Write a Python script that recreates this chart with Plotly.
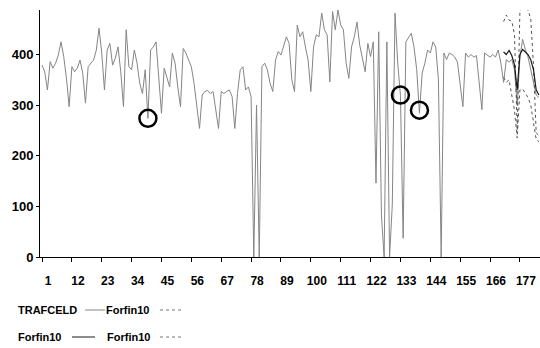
import plotly.graph_objects as go

# ---------------- data ----------------
TRAFCELD = [
    379, 366, 330, 386, 373, 383, 399, 425, 396, 353,
    297, 376, 366, 373, 389, 363, 304, 376, 383, 389,
    409, 452, 403, 330, 409, 422, 379, 393, 415, 366,
    297, 449, 376, 370, 409, 383, 343, 323, 370, 274,
    409, 415, 425, 350, 284, 373,
    356, 336, 403, 383, 336, 297, 412, 403, 389, 376,
    343, 297, 254, 320, 327, 329, 323, 327, 291, 254,
    327, 323, 327, 330, 317, 254, 323, 370, 376, 330,
    336, 317,
    0, 300, 0,
    376, 383, 370, 343, 327, 389, 406, 399, 419, 435, 422,
    350, 327, 458, 435, 445, 415, 389, 327, 415, 439,
    435, 482, 449, 439, 346, 485, 449, 488, 458, 449,
    383, 353, 415, 435, 464, 419, 389, 366, 422, 396, 425,
    146, 445, 83, 0, 425, 0, 103, 482, 383, 320,
    37, 425, 435, 442, 415, 370, 284, 363, 383, 409,
    403, 425, 415, 350, 0, 403,
    390, 403, 400, 395, 385, 343, 297, 403, 395, 400,
    395, 398, 336, 291, 403, 398, 395, 400, 395, 409, 383,
    345, 390, 385, 390, 370, 300, 395, 430, 410, 395,
    370, 345, 320, 315,
]

FORECAST_START = 171
FORFIN10_FIT = [405, 400, 408, 398, 380, 330, 400, 410, 405, 400, 390, 370, 330, 320]
FORFIN10_UPPER = [465, 478, 468, 466, 440, 250, 485, 492, 490, 488, 470, 380, 245, 240]
FORFIN10_LOWER = [355, 345, 350, 320, 290, 235, 330, 332, 322, 315, 300, 270, 232, 228]

OUTLIER_X = [40, 133, 140]
OUTLIER_Y = [274, 320, 290]

X_TICKS = [1, 12, 23, 34, 45, 56, 67, 78, 89, 100, 111, 122, 133, 144, 155, 166, 177]
Y_TICKS = [0, 100, 200, 300, 400]

# ---------------- figure ----------------
x_obs = list(range(1, len(TRAFCELD) + 1))
x_fc = list(range(FORECAST_START, FORECAST_START + len(FORFIN10_FIT)))

fig = go.Figure()
fig.add_trace(go.Scatter(x=x_obs, y=TRAFCELD, mode="lines", name="TRAFCELD",
                         line=dict(color="#858585", width=1)))
fig.add_trace(go.Scatter(x=x_fc, y=FORFIN10_UPPER, mode="lines", name="Forfin10",
                         line=dict(color="#555555", width=1, dash="3px,3px")))
fig.add_trace(go.Scatter(x=x_fc, y=FORFIN10_LOWER, mode="lines", name="Forfin10",
                         line=dict(color="#555555", width=1, dash="3px,3px")))
fig.add_trace(go.Scatter(x=x_fc, y=FORFIN10_FIT, mode="lines", name="Forfin10",
                         line=dict(color="#1a1a1a", width=1.2)))
fig.add_trace(go.Scatter(x=OUTLIER_X, y=OUTLIER_Y, mode="markers", name="outliers",
                         marker=dict(symbol="circle-open", size=17,
                                     line=dict(color="black", width=2.5), color="black")))

W, H = 540, 348
ML, MR, MT, MB = 40, 0, 10, 91
PW, PH = W - ML - MR, H - MT - MB


def px(xp):
    return (xp - ML) / PW


def py(yp):
    return (H - MB - yp) / PH


xtickfont = dict(family="Liberation Sans, Arial, sans-serif", size=12, color="black", weight="bold")
ytickfont = dict(family="Liberation Sans, Arial, sans-serif", size=13, color="black", weight="bold")

fig.update_layout(
    width=W, height=H,
    margin=dict(l=ML, r=MR, t=MT, b=MB, pad=0),
    plot_bgcolor="white", paper_bgcolor="white",
    showlegend=False,
    xaxis=dict(range=[0.26, 184.4], showline=True, linecolor="black", linewidth=1,
               ticks="outside", ticklen=4, tickcolor="black", tickwidth=1,
               tickvals=X_TICKS, ticktext=[str(v) for v in X_TICKS],
               tickfont=xtickfont, ticklabelshift=6, ticklabelstandoff=9,
               showgrid=False, zeroline=False),
    yaxis=dict(range=[0, 488], showline=True, linecolor="black", linewidth=1,
               ticks="outside", ticklen=3, tickcolor="black", tickwidth=1,
               tickvals=Y_TICKS, tickfont=ytickfont,
               showgrid=False, zeroline=False),
)

legfont = dict(family="Liberation Sans, Arial, sans-serif", size=11, color="black", weight="bold")
legend_rows = [
    ("TRAFCELD", 16, "#858585", 85, 105, 104, 310),
    ("Forfin10", 16, "#1a1a1a", 72, 95, 105, 337),
]
for lab, lx, lc, x0, x1, l2x, yy in legend_rows:
    fig.add_annotation(x=px(lx), y=py(yy), xref="paper", yref="paper", text=lab,
                       showarrow=False, xanchor="left", yanchor="middle", font=legfont)
    fig.add_shape(type="line", xref="paper", yref="paper", x0=px(x0), x1=px(x1),
                  y0=py(yy), y1=py(yy), line=dict(color=lc, width=1))
    fig.add_annotation(x=px(l2x), y=py(yy), xref="paper", yref="paper", text="Forfin10",
                       showarrow=False, xanchor="left", yanchor="middle", font=legfont)
    fig.add_shape(type="line", xref="paper", yref="paper", x0=px(160), x1=px(181),
                  y0=py(yy), y1=py(yy), line=dict(color="#777777", width=1, dash="3px,3px"))

fig.write_html("out.html")
